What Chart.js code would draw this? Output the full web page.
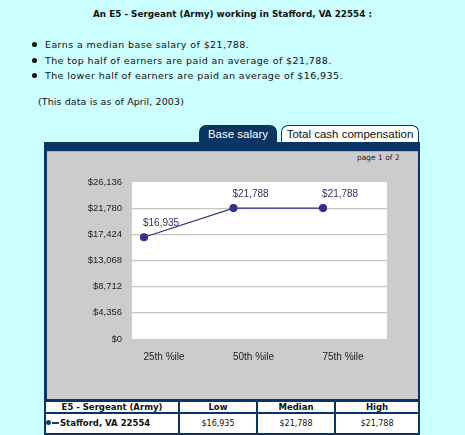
<!DOCTYPE html>
<html><head><meta charset="utf-8">
<script src="https://cdn.jsdelivr.net/npm/chart.js@4/dist/chart.umd.min.js"></script>
<style>
html,body{margin:0;padding:0;background:#ccffff;width:465px;height:435px;overflow:hidden;font-family:"DejaVu Sans",Verdana,sans-serif;color:#111;}
.abs{position:absolute;}
#title{left:0;width:465px;top:9px;text-align:center;font-weight:bold;font-size:8.8px;}
.bul{left:32px;font-size:9.5px;white-space:nowrap;letter-spacing:0.4px;}
.bul:before{content:"";display:inline-block;width:5px;height:5px;border-radius:50%;background:#111;margin-right:8px;vertical-align:1px;}
#note{left:38px;top:96px;font-size:9.5px;letter-spacing:0.1px;}
#tab1{left:199px;top:125px;width:78px;height:17px;background:#0a3463;border-radius:7px 7px 0 0;color:#fff;font-family:"Liberation Sans",Arial,sans-serif;font-size:11.5px;line-height:18px;text-align:center;}
#tab2{left:281px;top:125px;width:136px;height:16px;background:#fff;border:1.5px solid #0a3463;border-bottom:none;border-radius:7px 7px 0 0;color:#111;font-family:"Liberation Sans",Arial,sans-serif;font-size:11.5px;line-height:17px;text-align:center;}
#panel{left:44px;top:142px;width:376px;height:259px;background:#0a3463;}
#gray{left:47px;top:151px;width:371px;height:248px;background:#cccccc;border-top:1px solid #9fb3cf;box-sizing:border-box;}
#page{left:357px;top:153px;font-size:7.5px;color:#222;}
#chartbox{left:47px;top:151px;width:371px;height:247px;}
table{position:absolute;left:44px;top:400px;width:376px;border-collapse:collapse;background:#fff;font-size:8.5px;}
td{border:2px solid #0a3463;text-align:center;padding:0;}
tr.h td{font-weight:bold;height:10px;line-height:10px;}
tr.r td{height:19px;line-height:19px;font-size:8px;}
</style></head><body>
<div id="title" class="abs">An E5 - Sergeant (Army) working in Stafford, VA 22554 :</div>
<div class="abs bul" style="top:39px">Earns a median base salary of $21,788.</div>
<div class="abs bul" style="top:55px">The top half of earners are paid an average of $21,788.</div>
<div class="abs bul" style="top:70px">The lower half of earners are paid an average of $16,935.</div>
<div id="note" class="abs">(This data is as of April, 2003)</div>
<div id="tab1" class="abs">Base salary</div>
<div id="tab2" class="abs">Total cash compensation</div>
<div id="panel" class="abs"></div>
<div id="gray" class="abs"></div>
<div id="page" class="abs">page 1 of 2</div>
<div id="chartbox" class="abs"><canvas id="c" width="371" height="247"></canvas></div>
<table>
<tr class="h"><td style="width:132px">E5 - Sergeant (Army)</td><td style="width:76px">Low</td><td style="width:76px">Median</td><td>High</td></tr>
<tr class="r"><td style="text-align:left;font-weight:bold;white-space:nowrap;font-size:8.5px"><span style="display:inline-block;width:5px;height:5px;border-radius:50%;background:#1a3a6a;vertical-align:1px"></span><span style="display:inline-block;width:7px;height:2px;background:#1a3a6a;vertical-align:2px;margin:0 1px 0 1px"></span>Stafford, VA 22554</td><td>$16,935</td><td>$21,788</td><td>$21,788</td></tr>
</table>
<script>
const categories = ["25th %ile", "50th %ile", "75th %ile"];
const salaryValues = [16935, 21788, 21788];
const yTickValues = [0, 4356, 8712, 13068, 17424, 21780, 26136];

const fmt = v => "$" + v.toLocaleString("en-US");

const plotBg = {
  id: "plotBg",
  beforeDraw(chart) {
    const {ctx, chartArea: a} = chart;
    ctx.save(); ctx.fillStyle = "#ffffff";
    ctx.fillRect(a.left, a.top, a.right - a.left, a.bottom - a.top);
    ctx.restore();
  }
};
const valueLabels = {
  id: "valueLabels",
  afterDatasetsDraw(chart) {
    const {ctx} = chart;
    const meta = chart.getDatasetMeta(0);
    ctx.save();
    ctx.font = "10px 'Liberation Sans', Arial, sans-serif";
    ctx.fillStyle = "#333366";
    ctx.textAlign = "left"; ctx.textBaseline = "middle";
    meta.data.forEach((pt, i) => {
      ctx.fillText(fmt(salaryValues[i]), pt.x - 1, pt.y - 14);
    });
    ctx.restore();
  }
};

new Chart(document.getElementById("c"), {
  type: "line",
  data: {
    datasets: [{
      data: salaryValues.map((v, i) => ({x: i, y: v})),
      borderColor: "#333377",
      borderWidth: 1.2,
      pointBackgroundColor: "#333388",
      pointBorderColor: "#333388",
      pointRadius: 3.5,
      tension: 0
    }]
  },
  options: {
    responsive: false,
    animation: false,
    layout: {padding: {top: 31, right: 31, left: 0, bottom: 0}},
    plugins: {legend: {display: false}, tooltip: {enabled: false}},
    scales: {
      x: {
        type: "linear",
        min: -0.134, max: 2.715,
        afterBuildTicks: s => { s.ticks = categories.map((c, i) => ({value: i})); },
        afterFit: s => { s.height = 59; },
        grid: {display: false, drawTicks: false},
        border: {display: false},
        ticks: {
          callback: v => categories[v] ?? "",
          labelOffset: 20, padding: 12,
          color: "#222",
          font: {family: "'Liberation Sans', Arial, sans-serif", size: 10},
          maxRotation: 0
        }
      },
      y: {
        min: 0, max: 26136,
        afterBuildTicks: s => { s.ticks = yTickValues.map(v => ({value: v})); },
        afterFit: s => { s.width = 85; },
        grid: {
          drawTicks: false,
          color: c => (c.tick && (c.tick.value === 0 || c.tick.value === 26136)) ? "rgba(0,0,0,0)" : "#c4c4c4",
          lineWidth: 1.3
        },
        border: {display: false},
        ticks: {
          callback: v => fmt(v),
          padding: 10,
          color: "#222",
          font: {family: "'Liberation Sans', Arial, sans-serif", size: 9.5}
        }
      }
    }
  },
  plugins: [plotBg, valueLabels]
});
</script>
</body></html>
